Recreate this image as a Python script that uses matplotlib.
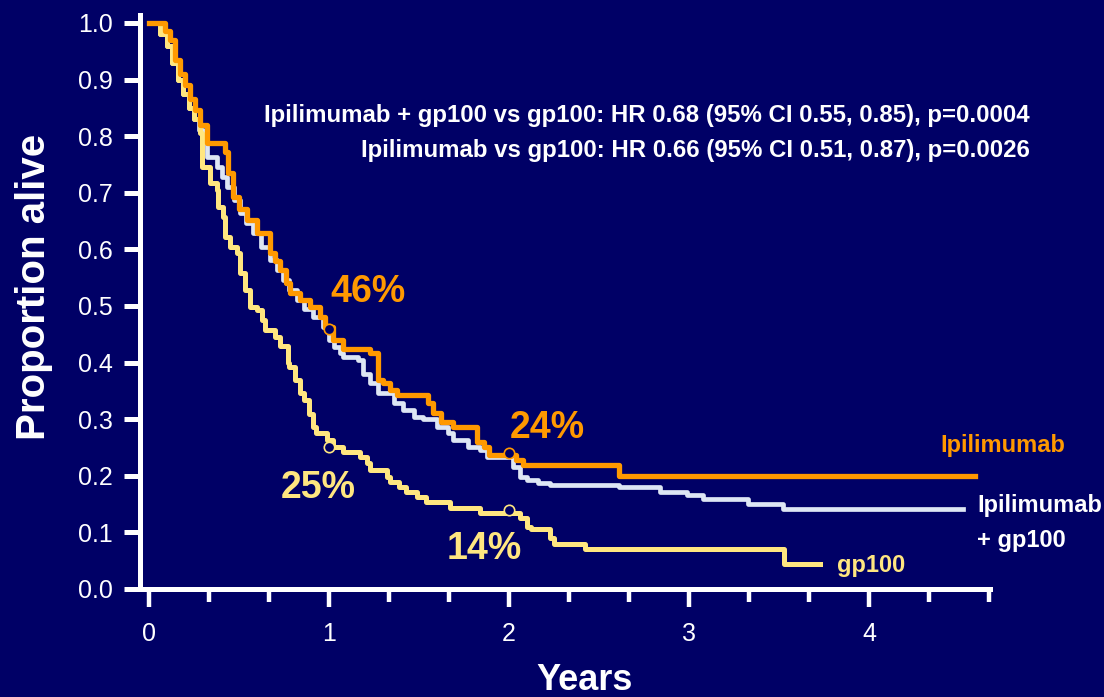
import matplotlib
matplotlib.use("Agg")
import matplotlib.pyplot as plt
import numpy as np

# ---------------- data ----------------
ipi_t = [0, 0.09, 0.117, 0.144, 0.17, 0.2, 0.23, 0.256, 0.283, 0.32, 0.42, 0.44, 0.467, 0.5,
         0.544, 0.6, 0.672, 0.7, 0.728, 0.76, 0.783, 0.839, 0.894, 0.95, 0.98, 1.02, 1.08, 1.23,
         1.27, 1.3, 1.34, 1.38, 1.55, 1.58, 1.62, 1.69, 1.82, 1.86, 1.89, 2.04, 2.08, 2.61, 4.59]
ipi_s = [1.0, 0.985, 0.97, 0.935, 0.91, 0.89, 0.865, 0.846, 0.82, 0.788, 0.772, 0.735, 0.693, 0.672,
         0.652, 0.629, 0.594, 0.58, 0.564, 0.54, 0.523, 0.51, 0.498, 0.48, 0.463, 0.44, 0.424, 0.417,
         0.37, 0.364, 0.352, 0.343, 0.329, 0.311, 0.295, 0.286, 0.26, 0.251, 0.237, 0.228, 0.219, 0.2, 0.2]

combo_t = [0, 0.06, 0.1, 0.13, 0.16, 0.19, 0.22, 0.25, 0.28, 0.3, 0.32, 0.378, 0.405, 0.433, 0.47,
           0.506, 0.54, 0.578, 0.62, 0.672, 0.71, 0.744, 0.78, 0.822, 0.86, 0.911, 0.967, 1.0, 1.03,
           1.06, 1.08, 1.16, 1.19, 1.23, 1.27, 1.36, 1.41, 1.47, 1.52, 1.6, 1.66, 1.69, 1.77, 1.84,
           1.88, 2.02, 2.06, 2.1, 2.16, 2.23, 2.61, 2.84, 2.99, 3.08, 3.33, 3.52, 4.52]
combo_s = [1.0, 0.98, 0.96, 0.93, 0.9, 0.875, 0.85, 0.83, 0.81, 0.79, 0.763, 0.746, 0.728, 0.71, 0.687,
           0.664, 0.647, 0.629, 0.605, 0.581, 0.563, 0.546, 0.528, 0.51, 0.495, 0.48, 0.463, 0.44, 0.428,
           0.417, 0.41, 0.405, 0.38, 0.364, 0.346, 0.329, 0.316, 0.304, 0.3, 0.286, 0.276, 0.263, 0.25,
           0.245, 0.233, 0.216, 0.198, 0.193, 0.187, 0.184, 0.18, 0.171, 0.166, 0.159, 0.15, 0.141, 0.141]

gp_t = [0, 0.06, 0.1, 0.13, 0.16, 0.19, 0.22, 0.25, 0.283, 0.294, 0.34, 0.378, 0.383, 0.41, 0.42,
        0.45, 0.49, 0.506, 0.533, 0.561, 0.6, 0.628, 0.644, 0.7, 0.73, 0.77, 0.78, 0.81, 0.84, 0.86,
        0.89, 0.91, 0.93, 0.99, 1.02, 1.08, 1.17, 1.21, 1.23, 1.32, 1.34, 1.39, 1.43, 1.49, 1.54,
        1.67, 1.84, 2.06, 2.1, 2.12, 2.23, 2.25, 2.42, 3.53, 3.73]
gp_s = [1.0, 0.98, 0.96, 0.93, 0.9, 0.875, 0.85, 0.83, 0.806, 0.746, 0.717, 0.705, 0.675, 0.657, 0.622,
        0.604, 0.594, 0.558, 0.528, 0.498, 0.493, 0.475, 0.458, 0.445, 0.43, 0.4, 0.392, 0.37, 0.346, 0.334,
        0.31, 0.286, 0.276, 0.263, 0.251, 0.242, 0.233, 0.222, 0.21, 0.198, 0.189, 0.18, 0.171, 0.163, 0.154,
        0.143, 0.134, 0.125, 0.11, 0.106, 0.09, 0.08, 0.07, 0.044, 0.044]

milestone_years = [1, 2]
ipi_milestone = [0.46, 0.24]
gp_milestone = [0.25, 0.14]
ipi_labels = ["46%", "24%"]
gp_labels = ["25%", "14%"]

y_ticks = [0.0, 0.1, 0.2, 0.3, 0.4, 0.5, 0.6, 0.7, 0.8, 0.9, 1.0]
x_ticks = [0, 1, 2, 3, 4]

hr_lines = ["Ipilimumab + gp100 vs gp100: HR 0.68 (95% CI 0.55, 0.85), p=0.0004",
            "Ipilimumab vs gp100: HR 0.66 (95% CI 0.51, 0.87), p=0.0026"]

# ---------------- style ----------------
BG = "#000066"
ORANGE = "#FF9900"
BLUE = "#DDE6F4"
YELLOW = "#FFE680"
WHITE = "white"
plt.rcParams["font.family"] = ["Liberation Sans", "DejaVu Sans"]

W, H = 1104, 697
fig = plt.figure(figsize=(W / 100, H / 100), dpi=100, facecolor=BG)
ax = fig.add_axes([140 / W, 1 - 589 / H, 850 / W, 574 / H], facecolor=BG)

ax.step(combo_t, combo_s, where="post", color=BLUE, lw=3.4, clip_on=False, zorder=3)
ax.step(gp_t, gp_s, where="post", color=YELLOW, lw=3.6, clip_on=False, zorder=4)
ax.step(ipi_t, ipi_s, where="post", color=ORANGE, lw=3.8, clip_on=False, zorder=5)

ax.plot(milestone_years, ipi_milestone, "o", ms=7.5, mfc=BG, mec=ORANGE, mew=1.2, zorder=6, clip_on=False)
ax.plot(milestone_years, gp_milestone, "o", ms=7.5, mfc=BG, mec=YELLOW, mew=1.2, zorder=6, clip_on=False)

ax.set_xlim(-0.05, 4.672)
ax.set_ylim(0, 1.014)

for s in ["top", "right"]:
    ax.spines[s].set_visible(False)
for s in ["left", "bottom"]:
    ax.spines[s].set_color(WHITE)
    ax.spines[s].set_linewidth(3.6)
    ax.spines[s].set_capstyle("projecting")

ax.set_yticks(y_ticks)
ax.set_yticklabels([f"{v:.1f}" for v in y_ticks])
ax.set_xticks(x_ticks)
ax.set_xticklabels([str(v) for v in x_ticks])
ax.set_xticks([k / 3 for k in range(15) if k % 3 != 0], minor=True)

ax.tick_params(axis="y", which="major", direction="out", length=11.5, width=3.6, color=WHITE,
               labelcolor=WHITE, labelsize=18, pad=8)
ax.tick_params(axis="x", which="major", direction="out", length=13, width=3.2, color=WHITE,
               labelcolor=WHITE, labelsize=18, pad=11)
ax.tick_params(axis="x", which="minor", direction="out", length=9.4, width=3.2, color=WHITE)


def fx(x):
    return x / W


def fy(y):
    return 1 - y / H


# axis titles
fig.text(fx(585), fy(690), "Years", color=WHITE, fontsize=26, fontweight="bold",
         ha="center", va="baseline")
fig.text(fx(34), fy(287), "Proportion alive", color=WHITE, fontsize=29, fontweight="bold",
         ha="center", va="center", rotation=90)

# hazard-ratio statements
fig.text(fx(1030), fy(122), hr_lines[0], color=WHITE, fontsize=17.3, fontweight="bold",
         ha="right", va="baseline")
fig.text(fx(1030), fy(157), hr_lines[1], color=WHITE, fontsize=17.3, fontweight="bold",
         ha="right", va="baseline")

# milestone percentages
fig.text(fx(330), fy(302), ipi_labels[0], color=ORANGE, fontsize=27, fontweight="bold", va="baseline")
fig.text(fx(510), fy(438), ipi_labels[1], color=ORANGE, fontsize=27, fontweight="bold", va="baseline")
fig.text(fx(281), fy(498), gp_labels[0], color=YELLOW, fontsize=27, fontweight="bold", va="baseline")
fig.text(fx(447), fy(559), gp_labels[1], color=YELLOW, fontsize=27, fontweight="bold", va="baseline")

# series labels
fig.text(fx(940), fy(452), "Ipilimumab", color=ORANGE, fontsize=17, fontweight="bold", va="baseline")
fig.text(fx(977), fy(512), "Ipilimumab", color=WHITE, fontsize=17, fontweight="bold", va="baseline")
fig.text(fx(977), fy(547), "+ gp100", color=WHITE, fontsize=17, fontweight="bold", va="baseline")
fig.text(fx(837), fy(572), "gp100", color=YELLOW, fontsize=17, fontweight="bold", va="baseline")

fig.savefig("out.png", dpi=100, facecolor=BG)
